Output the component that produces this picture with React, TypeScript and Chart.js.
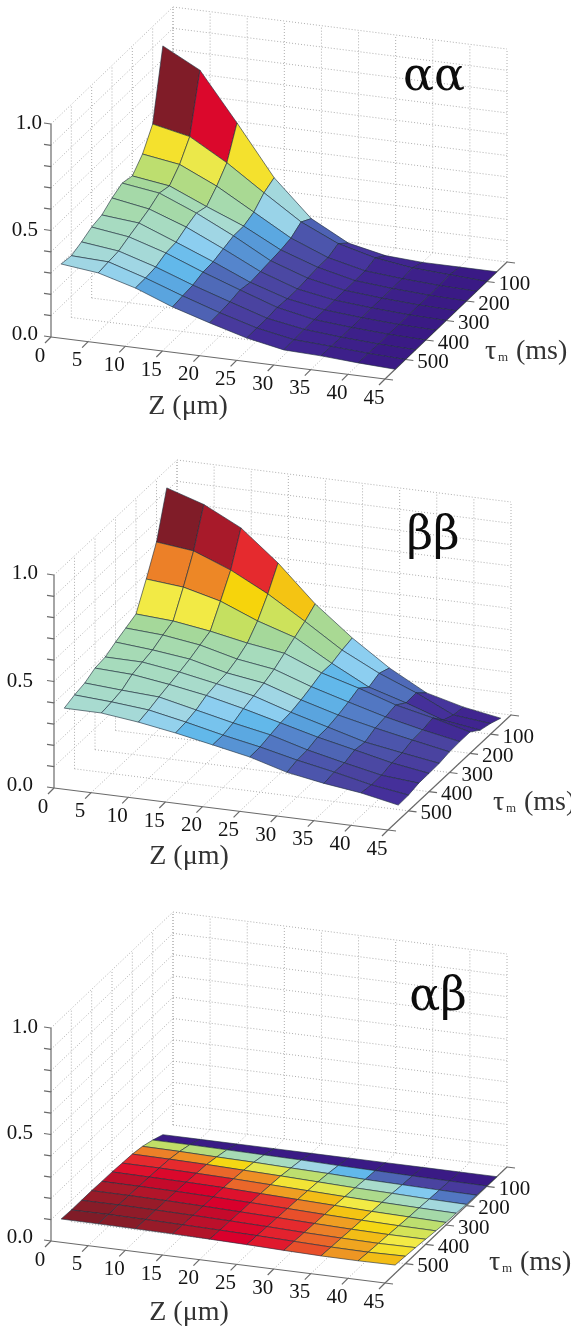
import React, { useEffect, useRef } from "react";
import { Chart, registerables } from "chart.js";

Chart.register(...registerables);

const zValues = [0, 5, 10, 15, 20, 25, 30, 35, 40, 45];
const tauRows = [50, 100, 150, 200, 250, 300, 350, 400, 450, 500, 550];
const tauTicks = [100, 200, 300, 400, 500];
const valueTicks = [0, 0.1, 0.2, 0.3, 0.4, 0.5, 0.6, 0.7, 0.8, 0.9, 1.0];
const valueLabels = ["0.0", "0.5", "1.0"];

const aaHeights = [
  [0.863, 0.771, 0.545, 0.31, 0.14, 0.047, 0.01, 0, 0, 0],
  [0.542, 0.505, 0.404, 0.285, 0.17, 0.09, 0.045, 0.02, 0.01, 0],
  [0.447, 0.42, 0.34, 0.24, 0.14, 0.07, 0.03, 0.015, 0.005, 0],
  [0.39, 0.365, 0.29, 0.22, 0.13, 0.07, 0.03, 0.015, 0.005, 0],
  [0.402, 0.377, 0.305, 0.22, 0.125, 0.065, 0.03, 0.015, 0.005, 0],
  [0.378, 0.348, 0.285, 0.205, 0.12, 0.06, 0.03, 0.015, 0.005, 0],
  [0.344, 0.328, 0.26, 0.19, 0.115, 0.06, 0.03, 0.015, 0.005, 0],
  [0.333, 0.309, 0.255, 0.187, 0.125, 0.065, 0.03, 0.015, 0.005, 0],
  [0.309, 0.288, 0.235, 0.172, 0.115, 0.06, 0.03, 0.015, 0.005, 0],
  [0.29, 0.283, 0.229, 0.167, 0.11, 0.06, 0.027, 0.018, 0.007, 0],
  [0.297, 0.277, 0.228, 0.161, 0.108, 0.059, 0.025, 0.019, 0.008, 0],
];

const aaLevels = [
  [1, 0.89, 0.63, 0.35, 0.145, 0.05, 0.02, 0.01, 0],
  [0.63, 0.59, 0.47, 0.33, 0.12, 0.05, 0.02, 0.01, 0],
  [0.52, 0.49, 0.43, 0.25, 0.1, 0.045, 0.02, 0.01, 0],
  [0.46, 0.42, 0.37, 0.23, 0.09, 0.04, 0.02, 0.01, 0],
  [0.44, 0.44, 0.34, 0.22, 0.09, 0.04, 0.02, 0.01, 0],
  [0.43, 0.4, 0.31, 0.2, 0.085, 0.04, 0.02, 0.01, 0],
  [0.4, 0.38, 0.28, 0.16, 0.085, 0.04, 0.02, 0.01, 0],
  [0.39, 0.36, 0.27, 0.16, 0.08, 0.04, 0.02, 0.01, 0],
  [0.36, 0.34, 0.25, 0.13, 0.07, 0.03, 0.02, 0.01, 0],
  [0.34, 0.32, 0.245, 0.145, 0.06, 0.03, 0.02, 0.01, 0],
];

const bbHeights = [
  [0.914, 0.858, 0.77, 0.627, 0.457, 0.319, 0.2, 0.105, 0.06, 0.03],
  [0.705, 0.685, 0.617, 0.527, 0.42, 0.307, 0.22, 0.15, 0.068, 0.05],
  [0.576, 0.56, 0.516, 0.445, 0.39, 0.29, 0.2, 0.148, 0.089, 0.064],
  [0.457, 0.446, 0.42, 0.386, 0.36, 0.29, 0.24, 0.183, 0.144, 0.1],
  [0.436, 0.425, 0.4, 0.356, 0.33, 0.27, 0.22, 0.172, 0.133, 0.1],
  [0.415, 0.4, 0.379, 0.336, 0.31, 0.253, 0.204, 0.165, 0.13, 0.097],
  [0.39, 0.388, 0.363, 0.33, 0.295, 0.24, 0.192, 0.144, 0.115, 0.088],
  [0.383, 0.375, 0.35, 0.32, 0.28, 0.235, 0.19, 0.152, 0.113, 0.086],
  [0.358, 0.346, 0.336, 0.297, 0.258, 0.224, 0.175, 0.136, 0.1, 0.085],
  [0.347, 0.336, 0.32, 0.285, 0.246, 0.212, 0.172, 0.138, 0.1, 0.074],
  [0.33, 0.329, 0.308, 0.279, 0.245, 0.21, 0.16, 0.13, 0.107, 0.072],
];

const bbLevels = [
  [1, 0.95, 0.85, 0.69, 0.47, 0.31, 0.16, 0.05, 0.02],
  [0.78, 0.77, 0.67, 0.55, 0.46, 0.31, 0.17, 0.04, 0.02],
  [0.6, 0.6, 0.54, 0.46, 0.41, 0.27, 0.16, 0.1, 0.02],
  [0.46, 0.46, 0.44, 0.41, 0.37, 0.27, 0.18, 0.1, 0.03],
  [0.43, 0.43, 0.42, 0.4, 0.37, 0.26, 0.19, 0.15, 0.08],
  [0.42, 0.41, 0.4, 0.37, 0.34, 0.245, 0.185, 0.12, 0.08],
  [0.41, 0.4, 0.38, 0.34, 0.31, 0.24, 0.17, 0.11, 0.07],
  [0.4, 0.39, 0.37, 0.31, 0.27, 0.2, 0.15, 0.09, 0.05],
  [0.385, 0.37, 0.34, 0.29, 0.25, 0.18, 0.12, 0.08, 0.04],
  [0.37, 0.36, 0.32, 0.27, 0.22, 0.16, 0.12, 0.08, 0.04],
];

const abHeights = [
  [0, 0, 0, 0, 0, 0, 0, 0, 0, 0],
  [0.02, 0.02, 0.018, 0.016, 0.014, 0.01, 0.008, 0.005, 0.003, 0.002],
  [0.036, 0.034, 0.03, 0.027, 0.022, 0.018, 0.012, 0.009, 0.006, 0.004],
  [0.045, 0.043, 0.04, 0.035, 0.03, 0.024, 0.018, 0.014, 0.009, 0.006],
  [0.048, 0.047, 0.044, 0.04, 0.034, 0.028, 0.022, 0.017, 0.013, 0.01],
  [0.052, 0.05, 0.048, 0.044, 0.038, 0.032, 0.026, 0.02, 0.016, 0.012],
  [0.053, 0.052, 0.05, 0.046, 0.041, 0.035, 0.029, 0.024, 0.02, 0.018],
  [0.055, 0.054, 0.052, 0.048, 0.043, 0.038, 0.032, 0.027, 0.024, 0.024],
  [0.055, 0.055, 0.053, 0.05, 0.046, 0.041, 0.035, 0.031, 0.028, 0.03],
  [0.055, 0.056, 0.054, 0.051, 0.048, 0.044, 0.039, 0.034, 0.032, 0.035],
  [0.058, 0.057, 0.056, 0.054, 0.051, 0.047, 0.042, 0.038, 0.037, 0.039],
];

const abLevels = [
  [0, 0, 0, 0, 0, 0, 0, 0, 0],
  [0.53, 0.5, 0.42, 0.4, 0.34, 0.27, 0.15, 0.08, 0.06],
  [0.78, 0.76, 0.66, 0.58, 0.52, 0.46, 0.38, 0.3, 0.18],
  [0.85, 0.85, 0.8, 0.76, 0.62, 0.58, 0.48, 0.4, 0.35],
  [0.88, 0.89, 0.87, 0.8, 0.74, 0.7, 0.6, 0.5, 0.44],
  [0.93, 0.92, 0.9, 0.88, 0.84, 0.78, 0.69, 0.61, 0.52],
  [0.95, 0.94, 0.92, 0.9, 0.86, 0.82, 0.74, 0.66, 0.56],
  [0.97, 0.97, 0.95, 0.92, 0.88, 0.85, 0.78, 0.7, 0.6],
  [0.99, 0.98, 0.96, 0.93, 0.89, 0.86, 0.8, 0.73, 0.63],
  [1, 0.99, 0.97, 0.94, 0.9, 0.87, 0.82, 0.75, 0.7],
];

const paletteStops = [0, 0.04, 0.08, 0.12, 0.16, 0.2, 0.24, 0.27, 0.31, 0.34, 0.37, 0.41, 0.46, 0.54, 0.6, 0.67, 0.73, 0.78, 0.85, 0.9, 0.95, 1];
const paletteColors = [
  "#3a1a85", "#45309a", "#4a43a0", "#4c55ac", "#4f6ab8", "#5585cc", "#58a0dc", "#62b8ea", "#8ccef0", "#a0d6e4", "#a8dbd0",
  "#a6dbbc", "#a5d89a", "#c5e060", "#f2ea45", "#f6d40c", "#f0a520", "#ec8028", "#e52a2e", "#d9002c", "#a81a2a", "#801c28",
];

const GRID = "#aeaeae";
const AXIS = "#6a6a6a";
const EDGE = "rgba(30,45,60,0.68)";
const INK = "#141414";
const SERIF = '"Liberation Serif", serif';

const panels = [
  { title: "αα", heights: aaHeights, levels: aaLevels, ox: 51, oy: 337, zx: 334, zy: 42, tx: 122, ty: -117, titleX: 434, titleY: 90, lab: [[38, 334], [38, 230], [42, 123]], zLabel: [188, 407], tauLabel: [485, 352] },
  { title: "ββ", heights: bbHeights, levels: bbLevels, ox: 54, oy: 788, zx: 334, zy: 42, tx: 123, ty: -115, titleX: 433, titleY: 549, lab: [[33, 785], [33, 681], [38, 573]], zLabel: [189, 857], tauLabel: [493, 803] },
  { title: "αβ", heights: abHeights, levels: abLevels, ox: 51, oy: 1241, zx: 334, zy: 42, tx: 122, ty: -116, titleX: 438, titleY: 1010, lab: [[33, 1237], [33, 1133], [38, 1027]], zLabel: [189, 1313], tauLabel: [489, 1263] },
];

type Panel = (typeof panels)[number];

const projector = (p: Panel) => (z: number, tau: number, v: number) => {
  const u = z / 45;
  const t = (600 - tau) / 600;
  return { x: p.ox + p.zx * u + p.tx * t, y: p.oy + p.zy * u + p.ty * t - 213 * v };
};

const rgb = (h: string) => [1, 3, 5].map((k) => parseInt(h.slice(k, k + 2), 16));

const colorFor = (level: number) => {
  let k = 0;
  while (k < paletteStops.length - 2 && level > paletteStops[k + 1]) k++;
  const f = Math.min(1, Math.max(0, (level - paletteStops[k]) / (paletteStops[k + 1] - paletteStops[k])));
  const a = rgb(paletteColors[k]);
  const b = rgb(paletteColors[k + 1]);
  return `rgb(${a.map((c, n) => Math.round(c + (b[n] - c) * f)).join(",")})`;
};

const lineSet = (pts: { x: number; y: number }[], color: string, width: number, dash: number[]) => ({
  type: "scatter" as const,
  data: pts,
  showLine: true,
  fill: false,
  borderColor: color,
  borderWidth: width,
  borderDash: dash,
  pointRadius: 0,
  tension: 0,
  clip: false as const,
});

const buildDatasets = () => {
  const out: any[] = [];
  const gridZ = zValues;
  const gridTau = [600, 500, 400, 300, 200, 100, 0];
  for (const p of panels) {
    const P = projector(p);
    const dash = [1, 2];
    // floor
    for (const tau of gridTau.slice(1)) out.push(lineSet([P(0, tau, 0), P(45, tau, 0)], GRID, 1, dash));
    for (const z of gridZ.slice(1)) out.push(lineSet([P(z, 600, 0), P(z, 0, 0)], GRID, 1, dash));
    // back wall
    for (const z of gridZ) out.push(lineSet([P(z, 0, 0), P(z, 0, 1)], GRID, 1, dash));
    for (const v of valueTicks.slice(1)) out.push(lineSet([P(0, 0, v), P(45, 0, v)], GRID, 1, dash));
    // left wall
    for (const tau of gridTau.slice(1)) out.push(lineSet([P(0, tau, 0), P(0, tau, 1)], GRID, 1, dash));
    for (const v of valueTicks.slice(1)) out.push(lineSet([P(0, 600, v), P(0, 0, v)], GRID, 1, dash));
    // axes
    out.push(lineSet([P(0, 600, 0), P(0, 600, 1)], AXIS, 1.2, []));
    out.push(lineSet([P(0, 600, 0), P(45, 600, 0)], AXIS, 1.2, []));
    out.push(lineSet([P(45, 600, 0), P(45, 0, 0)], AXIS, 1.2, []));
    for (const v of valueTicks) {
      const a = P(0, 600, v);
      out.push(lineSet([a, { x: a.x - 7, y: a.y - 1 }], AXIS, 1.2, []));
    }
    for (const z of zValues) {
      const a = P(z, 600, 0);
      out.push(lineSet([a, { x: a.x - 6, y: a.y + 6 }], AXIS, 1.2, []));
    }
    for (const tau of gridTau) {
      const a = P(45, tau, 0);
      out.push(lineSet([a, { x: a.x + 8, y: a.y + 1 }], AXIS, 1.2, []));
    }
    // surface, back row first
    const H = p.heights;
    for (let j = 0; j < tauRows.length - 1; j++) {
      for (let i = 0; i < zValues.length - 1; i++) {
        const a = P(zValues[i], tauRows[j], H[j][i]);
        const b = P(zValues[i + 1], tauRows[j], H[j][i + 1]);
        const c = P(zValues[i + 1], tauRows[j + 1], H[j + 1][i + 1]);
        const d = P(zValues[i], tauRows[j + 1], H[j + 1][i]);
        out.push({
          ...lineSet([a, b, c, d, a], EDGE, 0.9, []),
          fill: "shape",
          backgroundColor: colorFor(p.levels[j][i]),
        });
      }
    }
  }
  out.forEach((d, k) => {
    d.order = out.length - k;
  });
  return out;
};

const textPlugin = {
  id: "panelText",
  afterDatasetsDraw(chart: any) {
    const { ctx, scales } = chart;
    const X = (v: number) => scales.x.getPixelForValue(v);
    const Y = (v: number) => scales.y.getPixelForValue(v);
    const put = (s: string, x: number, y: number, font: string, align: CanvasTextAlign, color = INK, base: CanvasTextBaseline = "middle") => {
      ctx.font = font;
      ctx.textAlign = align;
      ctx.textBaseline = base;
      ctx.fillStyle = color;
      ctx.fillText(s, X(x), Y(y));
    };
    ctx.save();
    for (const p of panels) {
      const P = projector(p);
      put(p.title, p.titleX, p.titleY, `46px "DejaVu Serif", serif`, "center", "#0c0c0c", "alphabetic");
      p.lab.forEach((l, k) => put(valueLabels[k], l[0], l[1], `21px ${SERIF}`, "right"));
      for (const z of zValues) {
        const a = P(z, 600, 0);
        put(String(z), a.x - 11, a.y + 19, `21px ${SERIF}`, "center");
      }
      for (const tau of tauTicks) {
        const a = P(45, tau, 0);
        put(String(tau), a.x + 12, a.y + 3, `21px ${SERIF}`, "left");
      }
      put("Z (μm)", p.zLabel[0], p.zLabel[1], `28px ${SERIF}`, "center", "#333");
      const [lx, ly] = p.tauLabel;
      put("τ", lx, ly, `28px ${SERIF}`, "left", "#333");
      put("m", lx + 13, ly + 6, `13px ${SERIF}`, "left", "#333");
      put("(ms)", lx + 31, ly, `28px ${SERIF}`, "left", "#333");
    }
    ctx.restore();
  },
};

export default function App() {
  const ref = useRef<HTMLCanvasElement>(null);
  useEffect(() => {
    document.body.style.margin = "0";
    const chart = new Chart(ref.current as HTMLCanvasElement, {
      type: "scatter",
      data: { datasets: buildDatasets() },
      options: {
        animation: false,
        responsive: false,
        layout: { padding: 0 },
        scales: {
          x: { type: "linear", display: false, min: 0, max: 571 },
          y: { type: "linear", display: false, min: 0, max: 1328, reverse: true },
        },
        plugins: { legend: { display: false }, tooltip: { enabled: false } },
      },
      plugins: [textPlugin],
    } as any);
    return () => chart.destroy();
  }, []);
  return <canvas ref={ref} width={571} height={1328} style={{ display: "block" }} />;
}
